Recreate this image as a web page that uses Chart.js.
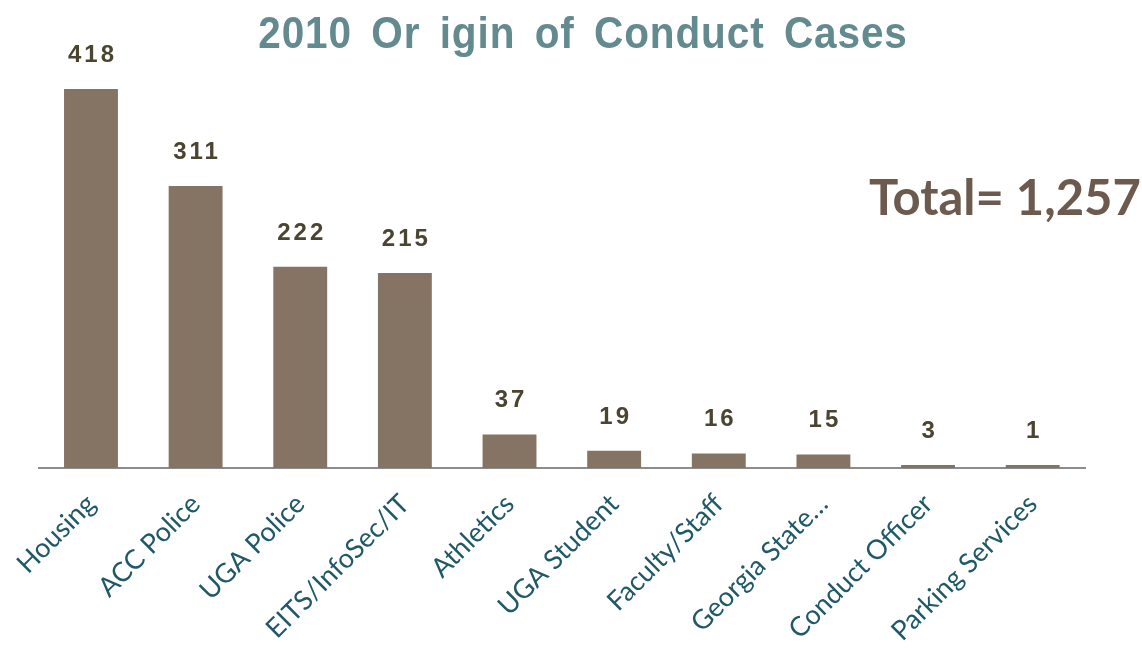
<!DOCTYPE html>
<html><head><meta charset="utf-8">
<script src="https://cdn.jsdelivr.net/npm/chart.js@4.4.0/dist/chart.umd.min.js"></script>
<style>html,body{margin:0;padding:0;background:#fff}#wrap{width:1142px;height:648px}</style>
</head><body><div id="wrap"><canvas id="c" width="1142" height="648"></canvas></div>
<script>
const categories = ["Housing","ACC Police","UGA Police","EITS/InfoSec/IT","Athletics","UGA Student","Faculty/Staff","Georgia State…","Conduct Officer","Parking Services"];
const cases = [418,311,222,215,37,19,16,15,3,1];
const titleText = "2010 Or igin of Conduct Cases";
const totalText = "Total= 1,257";

const overlay = {
  id:'overlay',
  afterDatasetsDraw(chart){
    const ctx = chart.ctx;
    const meta = chart.getDatasetMeta(0);
    ctx.save();
    ctx.fillStyle = '#4a4530';
    ctx.font = 'bold 24px "Liberation Sans", Arial, sans-serif';
    ctx.textAlign = 'center';
    ctx.textBaseline = 'alphabetic';
    try{ ctx.letterSpacing = '3px'; }catch(e){}
    meta.data.forEach((bar,i)=>{
      ctx.fillText(String(cases[i]), bar.x+1.5, Math.min(bar.y, chart.chartArea.bottom-3)-27);
    });
    ctx.restore();

    ctx.save();
    ctx.fillStyle = '#628a8f';
    ctx.font = 'bold 45px "Liberation Sans", Arial, sans-serif';
    ctx.textAlign = 'center';
    ctx.textBaseline = 'alphabetic';
    try{ ctx.letterSpacing = '1px'; ctx.wordSpacing = '8px'; }catch(e){}
    ctx.translate(583, 48);
    ctx.scale(0.9, 1);
    ctx.fillText(titleText, 0, 0);
    ctx.restore();

    ctx.save();
    ctx.fillStyle = '#6b5a4d';
    ctx.font = 'bold 49px Lato, "Open Sans", sans-serif';
    ctx.textAlign = 'left';
    ctx.textBaseline = 'alphabetic';
    ctx.fillText(totalText, 869, 215);
    ctx.restore();
  }
};

new Chart(document.getElementById('c'), {
  type:'bar',
  data:{ labels: categories, datasets:[{ data: cases, backgroundColor:'#857463', borderWidth:0, categoryPercentage:1, barPercentage:0.515, minBarLength:3 }]},
  options:{
    responsive:false, animation:false,
    layout:{ padding:{ left:36, right:57, top:89, bottom:0 } },
    plugins:{ legend:{display:false}, title:{display:false}, tooltip:{enabled:false} },
    scales:{
      x:{
        grid:{ display:false, drawTicks:false },
        border:{ display:true, color:'#8c8c8c', width:2 },
        ticks:{ color:'#1f5866', font:{ family:'Lato', size:27 }, maxRotation:45, minRotation:45, padding:20, autoSkip:false },
        afterFit(s){ s.height = 180; }
      },
      y:{ display:false, min:0, max:418 }
    }
  },
  plugins:[overlay]
});
</script></body></html>
